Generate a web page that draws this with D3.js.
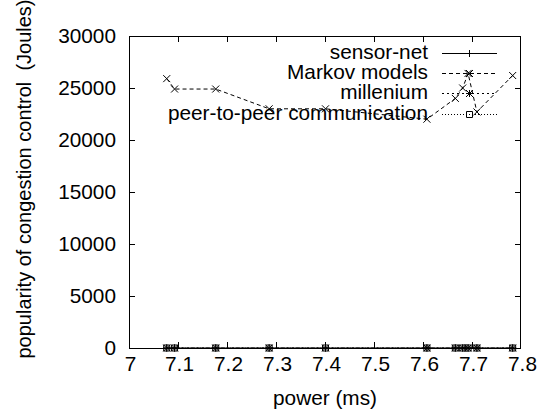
<!DOCTYPE html>
<html>
<head>
<meta charset="utf-8">
<script src="https://cdn.jsdelivr.net/npm/d3@7"></script>
<style>
  html, body { margin: 0; padding: 0; background: #fff; }
  svg { display: block; font-family: "Liberation Sans", Arial, Helvetica, sans-serif; }
</style>
</head>
<body>
<svg id="chart" width="541" height="412"></svg>
<script>
// ---- data ----
const xValues = [7.077, 7.093, 7.177, 7.286, 7.401, 7.608, 7.666, 7.681, 7.692, 7.710, 7.783];
const sensorNet = [0, 0, 0, 0, 0, 0, 0, 0, 0, 0, 0];
const markovModels = [25900, 24900, 24900, 23000, 23000, 22000, 24000, 25000, 26400, 22700, 26200];
const millenium = [0, 0, 0, 0, 0, 0, 0, 0, 0, 0, 0];
const peerToPeer = [0, 0, 0, 0, 0, 0, 0, 0, 0, 0, 0];
const seriesNames = ["sensor-net", "Markov models", "millenium", "peer-to-peer communication"];
const xTicks = [7, 7.1, 7.2, 7.3, 7.4, 7.5, 7.6, 7.7, 7.8];
const xTickLabels = ["7", "7.1", "7.2", "7.3", "7.4", "7.5", "7.6", "7.7", "7.8"];
const yTicks = [0, 5000, 10000, 15000, 20000, 25000, 30000];
const xLabel = "power (ms)";
const yLabel = "popularity of congestion control  (Joules)";

// ---- layout ----
const W = 541, H = 412;
const margin = { left: 129, right: 20, top: 36, bottom: 64 };
const svg = d3.select("#chart");
const x = d3.scaleLinear().domain([7, 7.8]).range([margin.left, W - margin.right]);
const y = d3.scaleLinear().domain([0, 30000]).range([H - margin.bottom, margin.top]);
const FS = 20.8;
const TICK = 6;

// styles per series
const styles = [
  { values: sensorNet, dash: null, marker: "plus", color: "#000" },
  { values: markovModels, dash: "4,3", marker: "cross", color: "#000" },
  { values: millenium, dash: "2,3", marker: "star", color: "#000" },
  { values: peerToPeer, dash: "1,2", marker: "square", color: "#000" }
];

function markerPath(type, cx, cy) {
  const r = 3.5;
  const p = d3.path();
  if (type === "plus" || type === "star") {
    p.moveTo(cx - r, cy); p.lineTo(cx + r, cy);
    p.moveTo(cx, cy - r); p.lineTo(cx, cy + r);
  }
  if (type === "cross" || type === "star") {
    p.moveTo(cx - r, cy - r); p.lineTo(cx + r, cy + r);
    p.moveTo(cx - r, cy + r); p.lineTo(cx + r, cy - r);
  }
  if (type === "square") {
    p.rect(cx - 3, cy - 3, 6, 6);
  }
  return p.toString();
}

// ---- axes (gnuplot-style border with inward mirrored ticks) ----
const xAxisB = d3.axisBottom(x).tickValues(xTicks).tickSize(0).tickPadding(8)
  .tickFormat((d, i) => xTickLabels[i]);
const yAxisL = d3.axisLeft(y).tickValues(yTicks).tickSize(0).tickPadding(13).tickFormat(d3.format("d"));

const gx = svg.append("g").attr("transform", `translate(1,${y(0)})`).call(xAxisB);
gx.select(".domain").remove();
gx.selectAll("text").attr("font-size", FS).attr("font-family", null).attr("fill", "#000").attr("dy", "0.71em");

const gy = svg.append("g").attr("transform", `translate(${x(7)},0)`).call(yAxisL);
gy.select(".domain").remove();
gy.selectAll("text").attr("font-size", FS).attr("font-family", null).attr("fill", "#000");

// inward tick marks
const tickG = svg.append("g").attr("stroke", "#000").attr("stroke-width", 1);
xTicks.slice(1, -1).forEach(v => {
  const xx = Math.round(x(v)) + 0.5;
  tickG.append("line").attr("x1", xx).attr("x2", xx).attr("y1", y(0)).attr("y2", y(0) - TICK);
  tickG.append("line").attr("x1", xx).attr("x2", xx).attr("y1", y(30000)).attr("y2", y(30000) + TICK);
});
yTicks.slice(1, -1).forEach(v => {
  const yy = Math.round(y(v)) + 0.5;
  tickG.append("line").attr("x1", x(7)).attr("x2", x(7) + TICK).attr("y1", yy).attr("y2", yy);
  tickG.append("line").attr("x1", x(7.8)).attr("x2", x(7.8) - TICK).attr("y1", yy).attr("y2", yy);
});

// ---- series ----
const line = d3.line().x(d => x(d[0])).y(d => y(d[1]));
styles.forEach(s => {
  const pts = xValues.map((xv, i) => [xv, s.values[i]]);
  svg.append("path")
    .attr("d", line(pts))
    .attr("fill", "none")
    .attr("stroke", s.color)
    .attr("stroke-width", 1)
    .attr("stroke-dasharray", s.dash);
  svg.append("path")
    .attr("d", pts.map(p => markerPath(s.marker, x(p[0]), y(p[1]))).join(""))
    .attr("fill", "none")
    .attr("stroke", s.color)
    .attr("stroke-width", 1);
});

// border box
svg.append("rect")
  .attr("x", x(7) + 0.5).attr("y", y(30000) + 0.5)
  .attr("width", x(7.8) - x(7) - 1).attr("height", y(0) - y(30000))
  .attr("fill", "none").attr("stroke", "#000").attr("stroke-width", 1);

// ---- legend ----
const legX = 428, legL1 = 442, legL2 = 497;
const legY0 = 52.7, legDY = 20.3;
seriesNames.forEach((name, i) => {
  const s = styles[i];
  const cy = legY0 + i * legDY;
  svg.append("text")
    .attr("x", legX).attr("y", cy + 6)
    .attr("text-anchor", "end")
    .attr("font-size", FS)
    .attr("fill", "#000")
    .text(name);
  svg.append("line")
    .attr("x1", legL1).attr("x2", legL2).attr("y1", Math.round(cy) + 0.5).attr("y2", Math.round(cy) + 0.5)
    .attr("stroke", s.color).attr("stroke-width", 1).attr("stroke-dasharray", s.dash);
  svg.append("path")
    .attr("d", markerPath(s.marker, (legL1 + legL2) / 2, Math.round(cy) + 0.5))
    .attr("fill", "none").attr("stroke", s.color).attr("stroke-width", 1);
});

// ---- axis titles ----
svg.append("text")
  .attr("x", (x(7) + x(7.8)) / 2).attr("y", 405)
  .attr("text-anchor", "middle").attr("font-size", FS).attr("fill", "#000")
  .text(xLabel);
svg.append("text")
  .attr("transform", `translate(31,179) rotate(-90)`)
  .attr("text-anchor", "middle").attr("font-size", 20).attr("fill", "#000")
  .style("white-space", "pre")
  .text(yLabel);
</script>
</body>
</html>
